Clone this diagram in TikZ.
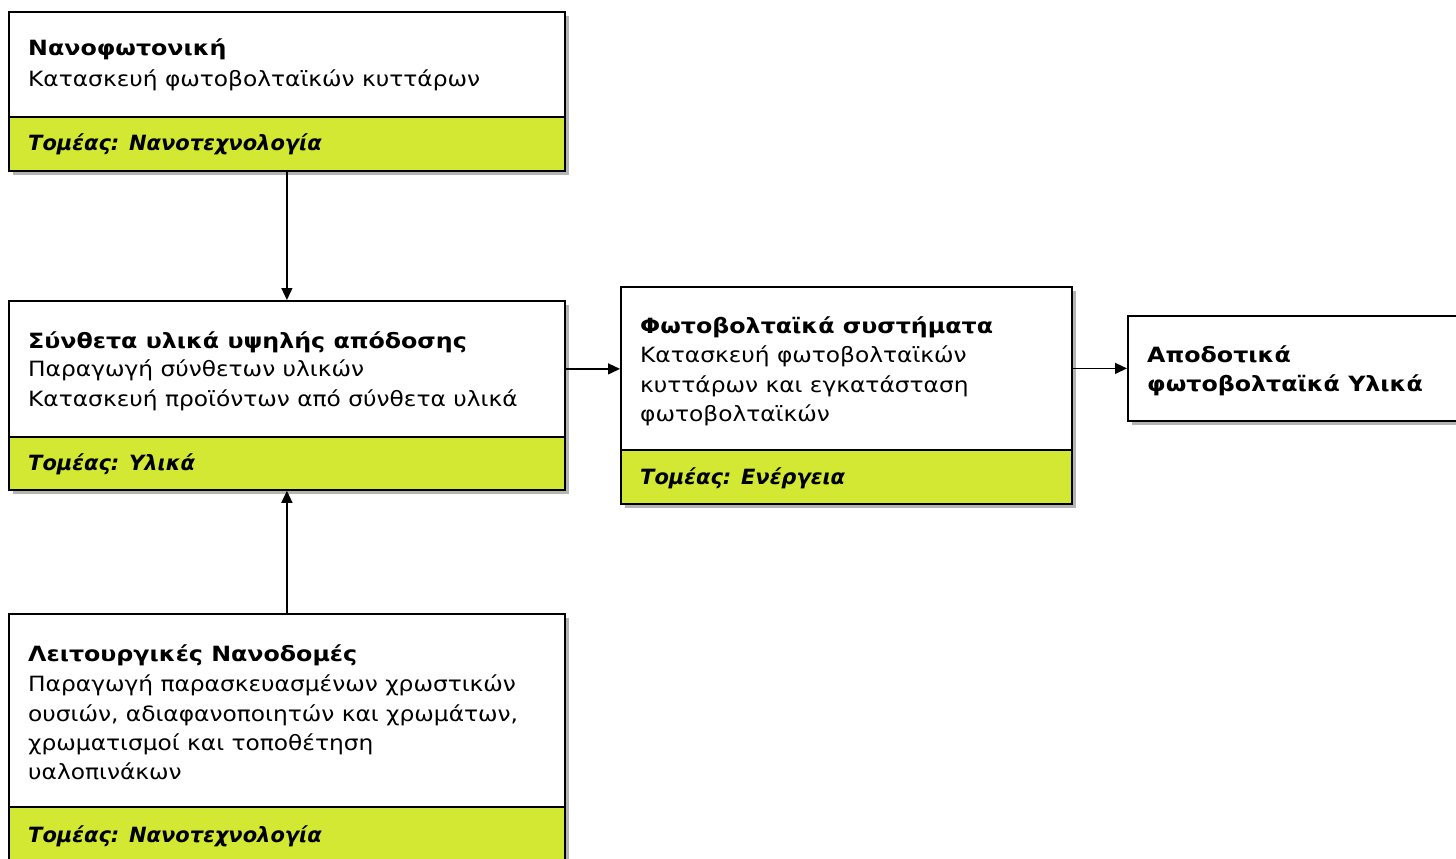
\documentclass[tikz,border=0pt]{standalone}
\usepackage{fontspec}
\setmainfont{DejaVu Sans}
\newfontfamily\bodyfont[FakeStretch=1.11]{DejaVu Sans}
\newfontfamily\headfont[FakeStretch=1.13]{DejaVu Sans}
\usetikzlibrary{arrows.meta,shadows}
\definecolor{sectorgreen}{RGB}{210,232,50}
\definecolor{shadowgray}{RGB}{180,180,180}
\begin{document}
\begin{tikzpicture}[x=1pt,y=-1pt,
  panel/.style={draw=black, line width=1.8pt, fill=white, rectangle, inner sep=0pt,
    anchor=north west, drop shadow={shadow xshift=4.5pt, shadow yshift=-4.5pt, fill=shadowgray, opacity=1}},
  sectorbar/.style={panel, fill=sectorgreen},
  txt/.style={anchor=base west, inner sep=0pt, font=\fontsize{21}{25}\bodyfont},
  ttl/.style={txt, font=\fontsize{21}{25}\headfont\bfseries},
  sec/.style={txt, font=\fontsize{21}{25}\selectfont\bfseries\itshape},
  conn/.style={draw=black, line width=1.3pt, -{Triangle[length=12pt,width=11pt]}}
]
\useasboundingbox (0,0) rectangle (1456,859);

% Nanophotonics
\node[panel, minimum width=556, minimum height=105] (w1) at (8,11) {};
\node[sectorbar, minimum width=556, minimum height=54] (s1) at (8,116) {};
\node[ttl] (t1a) at (28,56) {Νανοφωτονική};
\node[txt] (t1b) at (28,86) {Κατασκευή φωτοβολταϊκών κυττάρων};
\node[sec] (t1c) at (28,150) {Τομέας: Νανοτεχνολογία};

% High-performance composites
\node[panel, minimum width=556, minimum height=136] (w2) at (8,300) {};
\node[sectorbar, minimum width=556, minimum height=53] (s2) at (8,436) {};
\node[ttl] (t2a) at (28,348) {Σύνθετα υλικά υψηλής απόδοσης};
\node[txt] (t2b) at (28,376) {Παραγωγή σύνθετων υλικών};
\node[txt] (t2c) at (28,406) {Κατασκευή προϊόντων από σύνθετα υλικά};
\node[sec] (t2d) at (28,470) {Τομέας: Υλικά};

% Photovoltaic systems
\node[panel, minimum width=451, minimum height=163] (w3) at (620,286) {};
\node[sectorbar, minimum width=451, minimum height=54] (s3) at (620,449) {};
\node[ttl] (t3a) at (640,333) {Φωτοβολταϊκά συστήματα};
\node[txt] (t3b) at (640,362) {Κατασκευή φωτοβολταϊκών};
\node[txt] (t3c) at (640,392) {κυττάρων και εγκατάσταση};
\node[txt] (t3d) at (640,421) {φωτοβολταϊκών};
\node[sec] (t3e) at (640,484) {Τομέας: Ενέργεια};

% Result
\node[panel, minimum width=353, minimum height=105] (b4) at (1127,315) {};
\node[ttl] (t4a) at (1147,362) {Αποδοτικά};
\node[ttl] (t4b) at (1147,391) {φωτοβολταϊκά Υλικά};

% Functional nanostructures
\node[panel, minimum width=556, minimum height=193] (w5) at (8,613) {};
\node[sectorbar, minimum width=556, minimum height=60] (s5) at (8,806) {};
\node[ttl] (t5a) at (28,661) {Λειτουργικές Νανοδομές};
\node[txt] (t5b) at (28,691) {Παραγωγή παρασκευασμένων χρωστικών};
\node[txt] (t5c) at (28,721) {ουσιών, αδιαφανοποιητών και χρωμάτων,};
\node[txt] (t5d) at (28,750) {χρωματισμοί και τοποθέτηση};
\node[txt] (t5e) at (28,779) {υαλοπινάκων};
\node[sec] (t5f) at (28,842) {Τομέας: Νανοτεχνολογία};

% Connectors
\draw[conn] (s1.south) -- (w2.north);
\draw[conn] (w5.north) -- (s2.south);
\draw[conn] (w2.east) -- (w2.east -| w3.west);
\draw[conn] (w3.east) -- (w3.east -| b4.west);
\end{tikzpicture}
\end{document}
